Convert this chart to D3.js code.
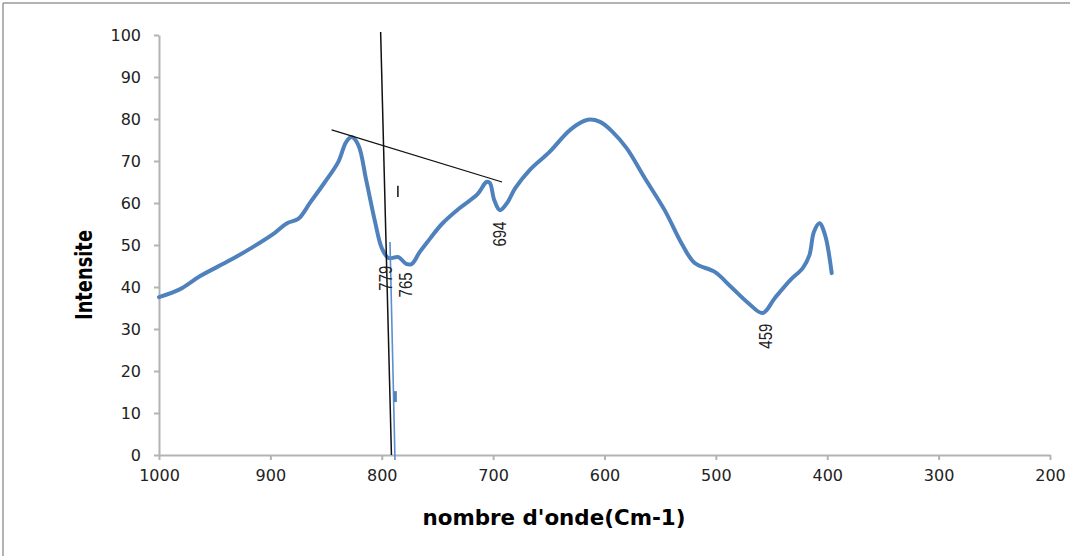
<!DOCTYPE html>
<html lang="fr">
<head>
  <meta charset="UTF-8">
  <title>Spectre IR</title>
  <style>
    body { margin: 0; background: #fff; }
    .axis path, .axis line { stroke: #b3b3b3; stroke-width: 2; }
    .axis text { font-family: "DejaVu Sans", Verdana, sans-serif; font-size: 16px; fill: #222; }
    .peak-label { font-family: "Liberation Sans", Arial, sans-serif; font-size: 19px; fill: #222; }
    .axis-title { font-family: "DejaVu Sans", Verdana, sans-serif; font-weight: bold; fill: #000; }
  </style>
</head>
<body>
<svg class="chart"></svg>

<script src="https://cdn.jsdelivr.net/npm/d3@7"></script>
<script>
  // wavenumbers (cm-1) and intensities
  const waveNumbers = [1000, 981, 963, 936, 914, 896, 885, 875, 864, 851, 839, 832, 827, 821, 814, 806, 800, 794,
    785, 778, 773, 766, 757, 746, 730, 714, 706, 703, 699, 694, 688, 680, 667, 650, 630, 615, 604, 593, 580,
    564, 546, 530, 519, 501, 487, 471, 458, 447, 433, 422, 416, 412, 407, 402, 396];
  const intensities = [37.6, 39.5, 42.6, 46.4, 49.8, 52.9, 55.2, 56.2, 60.2, 65.0, 69.8, 74.5, 75.7, 73.8, 65.5,
    55.5, 49.3, 46.9, 47.1, 45.5, 45.5, 48.3, 51.4, 55.0, 58.8, 62.1, 65.0, 64.8, 60.7, 58.3, 59.8, 63.6, 67.9,
    72.0, 77.6, 79.8, 79.3, 77.0, 73.0, 66.0, 58.3, 50.0, 45.7, 43.6, 40.2, 36.2, 33.8, 37.4, 41.7, 44.5, 47.6,
    53.1, 55.2, 52.4, 43.3];

  const xTicks = [1000, 900, 800, 700, 600, 500, 400, 300, 200];
  const yTicks = [0, 10, 20, 30, 40, 50, 60, 70, 80, 90, 100];

  // peak labels: [wavenumber, intensity, text]
  const peakLabels = [[797, 42.1, "779"], [779, 40.5, "765"], [694, 52.6, "694"], [456, 28.3, "459"]];

  // hand-drawn annotation lines: [wn1, val1, wn2, val2]
  const tangentLine = [845, 77.4, 692, 65.0];
  const verticalBlack = [801, 100.7, 791.3, 0];
  const verticalBlue = [792.6, 50.7, 788.1, -1.2];

  const W = 1070, H = 556;
  const svg = d3.select('.chart').attr('width', W).attr('height', H);

  // frame (top and left edges visible)
  svg.append('line').attr('x1', 3).attr('y1', 3).attr('x2', W).attr('y2', 3)
    .attr('stroke', '#999').attr('stroke-width', 1.5);
  svg.append('line').attr('x1', 3).attr('y1', 3).attr('x2', 3).attr('y2', H)
    .attr('stroke', '#999').attr('stroke-width', 1.5);

  const x = d3.scaleLinear().domain([1000, 200]).range([159, 1050]);
  const y = d3.scaleLinear().domain([0, 100]).range([455, 35]);

  // axes
  svg.append('g')
    .attr('class', 'axis')
    .attr('transform', `translate(0,${y(0)})`)
    .call(d3.axisBottom(x).tickValues(xTicks).tickFormat(d3.format('d'))
      .tickSize(5).tickPadding(10).tickSizeOuter(0));

  svg.append('g')
    .attr('class', 'axis')
    .attr('transform', `translate(${x(1000)},0)`)
    .call(d3.axisLeft(y).tickValues(yTicks).tickFormat(d3.format('d'))
      .tickSize(5).tickPadding(13).tickSizeOuter(0));

  // spectrum
  const pts = waveNumbers.map((w, i) => [w, intensities[i]]);
  const line = d3.line().x(d => x(d[0])).y(d => y(d[1])).curve(d3.curveCatmullRom.alpha(0.5));

  svg.append('path')
    .datum(pts)
    .attr('d', line)
    .attr('fill', 'none')
    .attr('stroke', '#4F81BD')
    .attr('stroke-width', 4)
    .attr('stroke-linejoin', 'round')
    .attr('stroke-linecap', 'round');

  // annotation lines
  function seg(s, color, w) {
    svg.append('line')
      .attr('x1', x(s[0])).attr('y1', y(s[1]))
      .attr('x2', x(s[2])).attr('y2', y(s[3]))
      .attr('stroke', color).attr('stroke-width', w);
  }
  seg(tangentLine, '#111', 1.3);
  seg(verticalBlack, '#111', 1.5);
  seg(verticalBlue, '#5a8fd2', 1.6);

  // small marks
  svg.append('rect')
    .attr('x', x(787.8) - 1.5).attr('y', y(15.2))
    .attr('width', 3).attr('height', y(12.6) - y(15.2))
    .attr('fill', '#4F81BD');
  svg.append('line')
    .attr('x1', x(785.5)).attr('y1', y(64.1))
    .attr('x2', x(785.5)).attr('y2', y(61.4))
    .attr('stroke', '#111').attr('stroke-width', 1.5);

  // peak labels (narrow type, squeezed to the reference width)
  svg.selectAll('.peak-label')
    .data(peakLabels)
    .enter().append('text')
    .attr('class', 'peak-label')
    .attr('transform', d => `translate(${x(d[0])},${y(d[1])}) rotate(-90)`)
    .attr('text-anchor', 'middle')
    .attr('dy', '0.35em')
    .attr('textLength', 25)
    .attr('lengthAdjust', 'spacingAndGlyphs')
    .text(d => d[2]);

  // axis titles
  svg.append('text')
    .attr('class', 'axis-title')
    .attr('x', 554).attr('y', 525)
    .attr('text-anchor', 'middle')
    .style('font-size', '21px')
    .attr('textLength', 263)
    .attr('lengthAdjust', 'spacingAndGlyphs')
    .text("nombre d'onde(Cm-1)");

  svg.append('text')
    .attr('class', 'axis-title')
    .attr('transform', 'translate(92,275) rotate(-90)')
    .attr('text-anchor', 'middle')
    .style('font-size', '23px')
    .attr('textLength', 90)
    .attr('lengthAdjust', 'spacingAndGlyphs')
    .text('Intensite');
</script>
</body>
</html>
